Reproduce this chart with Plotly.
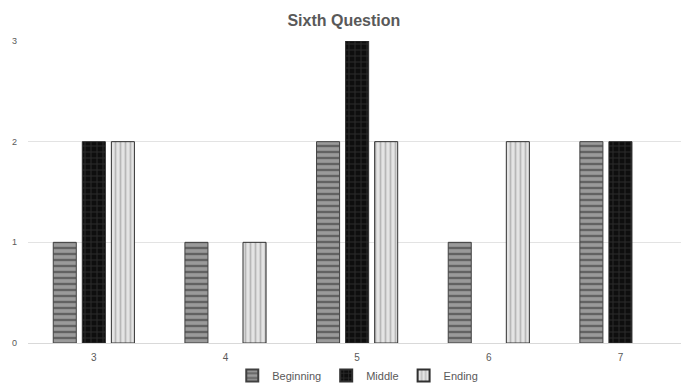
import plotly.graph_objects as go

categories = ["3", "4", "5", "6", "7"]
beginning = [1, 1, 2, 1, 2]
middle = [2, 0, 3, 0, 2]
ending = [2, 1, 2, 2, 0]
y_ticks = [0, 1, 2, 3]


def outline(vals):
    return [1 if v > 0 else 0 for v in vals]


fig = go.Figure()
fig.add_trace(go.Bar(
    name="Beginning", x=categories, y=beginning,
    marker=dict(color="#8c8c8c", line=dict(color="#404040", width=outline(beginning)),
                pattern=dict(shape="-", bgcolor="#9a9a9a", fgcolor="#2a2a2a", size=6, solidity=0.4)),
))
fig.add_trace(go.Bar(
    name="Middle", x=categories, y=middle,
    marker=dict(color="#111111", line=dict(color="#303030", width=outline(middle)),
                pattern=dict(shape="+", bgcolor="#0e0e0e", fgcolor="#4a4a4a", size=6, solidity=0.3)),
))
fig.add_trace(go.Bar(
    name="Ending", x=categories, y=ending,
    marker=dict(color="#dddddd", line=dict(color="#303030", width=outline(ending)),
                pattern=dict(shape="|", bgcolor="#e4e4e4", fgcolor="#8a8a8a", size=5, solidity=0.35)),
))

fig.update_layout(
    width=681, height=383,
    margin=dict(l=28, r=0, t=41, b=40, autoexpand=False),
    paper_bgcolor="white", plot_bgcolor="white",
    barmode="group", bargap=0.338, bargroupgap=0.207,
    font=dict(family="Liberation Sans, Arial, sans-serif", color="#595959"),
    title=dict(text="<b>Sixth Question</b>", x=0.505, xanchor="center", y=0.947, yanchor="middle",
               font=dict(size=16, color="#595959")),
    showlegend=True,
    legend=dict(orientation="h", x=0.505, xanchor="center", y=-0.06, yanchor="top",
                font=dict(size=11, color="#595959"), itemwidth=30, tracegroupgap=0,
                bgcolor="rgba(0,0,0,0)", itemsizing="constant"),
    xaxis=dict(type="category", range=[-0.5, 4.46], showgrid=False, showline=True,
               linecolor="#d9d9d9", linewidth=1, ticks="", ticklabelstandoff=5,
               tickfont=dict(size=10, color="#595959")),
    yaxis=dict(range=[0, 3], tickvals=y_ticks, showgrid=True, gridcolor="#e3e3e3", gridwidth=1,
               zeroline=False, showline=False, ticklabelstandoff=10,
               tickfont=dict(size=9, color="#595959"), ticks=""),
)

fig.write_html("out.html")
